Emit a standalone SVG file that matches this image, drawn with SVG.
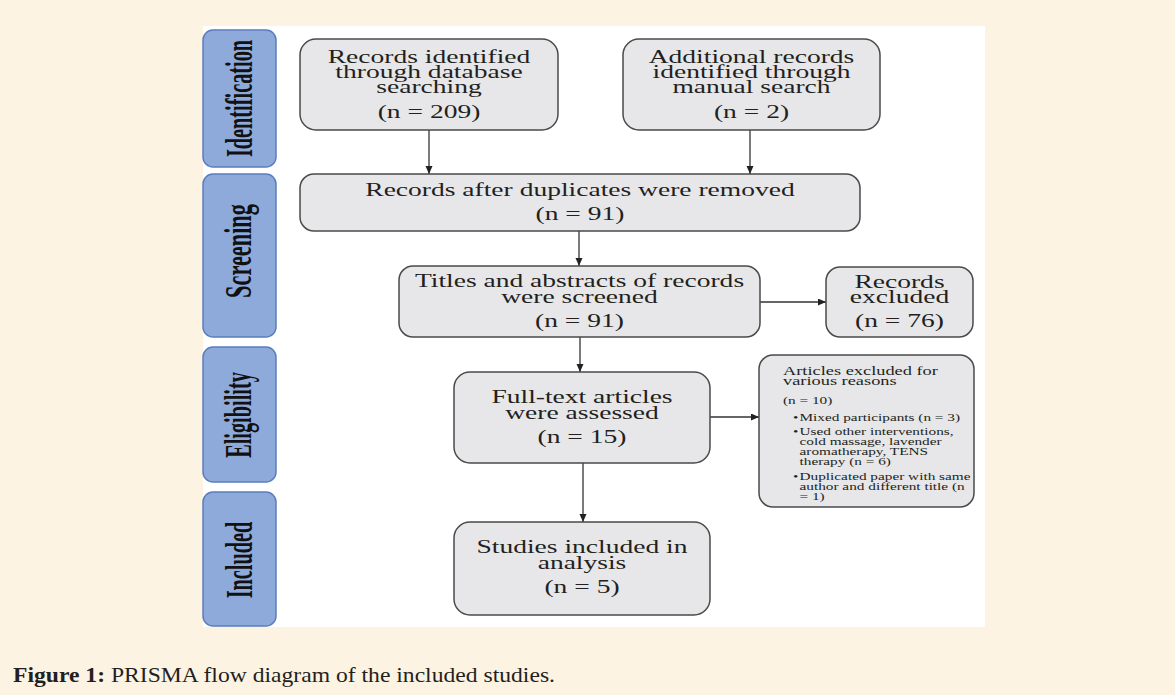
<svg xmlns="http://www.w3.org/2000/svg" width="1175" height="695" viewBox="0 0 1175 695">
<defs>
<style>
.bg{fill:#fdf3e3}
.panel{fill:#ffffff}
.lab{fill:#8eaadb;stroke:#5a7ebc;stroke-width:1.5}
.labt{font-family:"Liberation Serif","Times New Roman",serif;font-weight:bold;font-size:20.3px;fill:#111;text-anchor:middle}
.box{fill:#e7e7e9;stroke:#4a4a4a;stroke-width:1.5}
.t{font-family:"Liberation Serif","Times New Roman",serif;font-size:18px;fill:#231f20;text-anchor:middle}
.s{font-family:"Liberation Serif","Times New Roman",serif;font-size:12px;fill:#231f20}
.ss{font-family:"Liberation Serif","Times New Roman",serif;font-size:10px;fill:#231f20}
.con{stroke:#333;stroke-width:1.3;fill:none;marker-end:url(#ah)}
.cap{font-family:"Liberation Serif","Times New Roman",serif;font-size:21px;fill:#231f20}
</style>
<marker id="ah" markerUnits="userSpaceOnUse" markerWidth="9" markerHeight="8" refX="8" refY="3.5" orient="auto">
<path d="M0,0 L8,3.5 L0,7 Z" fill="#222"/>
</marker>
</defs>
<rect class="bg" x="0" y="0" width="1175" height="695"/>
<rect class="panel" x="203" y="26" width="782" height="601"/>

<g id="stage-identification">
<rect class="lab" x="203" y="30" width="73" height="137" rx="10"/>
<text class="labt" x="0" y="0" transform="translate(252 98.5) rotate(-90) scale(1 1.87)">Identification</text>
</g>
<g id="stage-screening">
<rect class="lab" x="203" y="174" width="73" height="163" rx="10"/>
<text class="labt" x="0" y="0" transform="translate(251 251) rotate(-90) scale(1.1 1.87)">Screening</text>
</g>
<g id="stage-eligibility">
<rect class="lab" x="203" y="347" width="73" height="135" rx="10"/>
<text class="labt" x="0" y="0" transform="translate(251 415) rotate(-90) scale(1 1.87)">Eligibility</text>
</g>
<g id="stage-included">
<rect class="lab" x="203" y="492" width="73" height="134" rx="10"/>
<text class="labt" x="0" y="0" transform="translate(252 560) rotate(-90) scale(1 1.87)">Included</text>
</g>

<g id="connectors">
<line class="con" x1="429" y1="130" x2="429" y2="174"/>
<line class="con" x1="750" y1="130" x2="750" y2="174"/>
<line class="con" x1="579" y1="231" x2="579" y2="266"/>
<line class="con" x1="760" y1="302" x2="826" y2="302"/>
<line class="con" x1="580" y1="337" x2="580" y2="372"/>
<line class="con" x1="583" y1="463" x2="583" y2="522"/>
<line class="con" x1="710" y1="417" x2="759" y2="417"/>
</g>

<g id="n-database">
<rect class="box" x="300" y="39" width="258" height="91" rx="16"/>
<g transform="translate(429 0) scale(1.53 1)">
<text class="t" x="0" y="63">Records identified</text>
<text class="t" x="0" y="78">through database</text>
<text class="t" x="0" y="93.5">searching</text>
<text class="t" x="0" y="118">(n = 209)</text>
</g>
</g>

<g id="n-manual">
<rect class="box" x="623" y="39" width="257" height="91" rx="16"/>
<g transform="translate(751.5 0) scale(1.53 1)">
<text class="t" x="0" y="63">Additional records</text>
<text class="t" x="0" y="78">identified through</text>
<text class="t" x="0" y="93.5">manual search</text>
<text class="t" x="0" y="118">(n = 2)</text>
</g>
</g>

<g id="n-duplicates">
<rect class="box" x="300" y="174" width="560" height="57" rx="14"/>
<g transform="translate(580 0) scale(1.53 1)">
<text class="t" x="0" y="196">Records after duplicates were removed</text>
<text class="t" x="0" y="220">(n = 91)</text>
</g>
</g>

<g id="n-screened">
<rect class="box" x="399" y="266" width="361" height="71" rx="14"/>
<g transform="translate(579.5 0) scale(1.53 1)">
<text class="t" x="0" y="287">Titles and abstracts of records</text>
<text class="t" x="0" y="303">were screened</text>
<text class="t" x="0" y="327">(n = 91)</text>
</g>
</g>

<g id="n-excluded">
<rect class="box" x="826" y="267" width="147" height="70" rx="14"/>
<g transform="translate(899.5 0) scale(1.53 1)">
<text class="t" x="0" y="288">Records</text>
<text class="t" x="0" y="303">excluded</text>
<text class="t" x="0" y="327">(n = 76)</text>
</g>
</g>

<g id="n-fulltext">
<rect class="box" x="454" y="372" width="256" height="91" rx="16"/>
<g transform="translate(582 0) scale(1.53 1)">
<text class="t" x="0" y="403">Full-text articles</text>
<text class="t" x="0" y="419">were assessed</text>
<text class="t" x="0" y="443">(n = 15)</text>
</g>
</g>

<g id="n-reasons">
<rect class="box" x="759" y="355" width="215" height="152" rx="14"/>
<g transform="translate(783 0) scale(1.53 1)">
<text class="s" x="0" y="375">Articles excluded for</text>
<text class="s" x="0" y="385">various reasons</text>
<text class="ss" x="0" y="404">(n = 10)</text>
<text class="ss" x="6.5" y="421">•</text>
<text class="ss" x="10.8" y="421">Mixed participants (n = 3)</text>
<text class="ss" x="6.5" y="435">•</text>
<text class="ss" x="10.8" y="435">Used other interventions,</text>
<text class="ss" x="10.8" y="445">cold massage, lavender</text>
<text class="ss" x="10.8" y="455">aromatherapy, TENS</text>
<text class="ss" x="10.8" y="465">therapy (n = 6)</text>
<text class="ss" x="6.5" y="480">•</text>
<text class="ss" x="10.8" y="480">Duplicated paper with same</text>
<text class="ss" x="10.8" y="490">author and different title (n</text>
<text class="ss" x="10.8" y="500">= 1)</text>
</g>
</g>

<g id="n-included">
<rect class="box" x="454" y="522" width="256" height="93" rx="16"/>
<g transform="translate(582 0) scale(1.53 1)">
<text class="t" x="0" y="553">Studies included in</text>
<text class="t" x="0" y="569">analysis</text>
<text class="t" x="0" y="593">(n = 5)</text>
</g>
</g>

<text class="cap" x="13" y="682" textLength="542" lengthAdjust="spacingAndGlyphs"><tspan font-weight="bold">Figure 1:</tspan> PRISMA flow diagram of the included studies.</text>
</svg>
